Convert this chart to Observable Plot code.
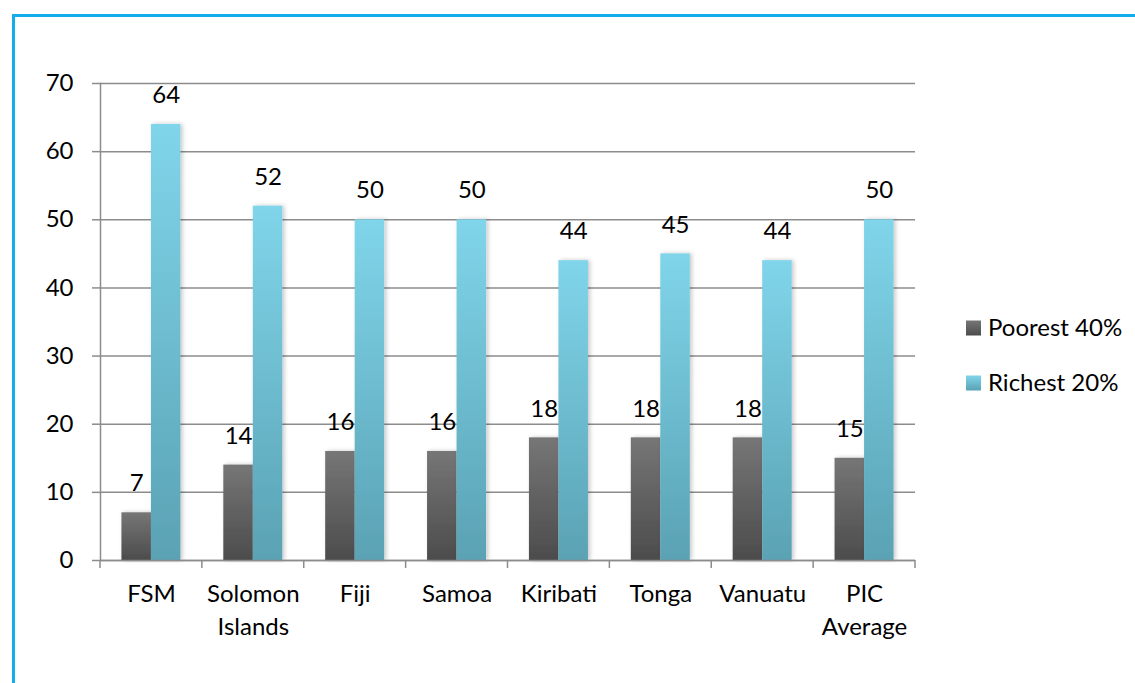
<!DOCTYPE html>
<html><head><meta charset="utf-8">
<script src="https://cdn.jsdelivr.net/npm/d3@7"></script>
<script src="https://cdn.jsdelivr.net/npm/@observablehq/plot@0.6"></script>
<style>
html,body{margin:0;padding:0;background:#fff;}
#wrap{position:relative;width:1135px;height:683px;overflow:hidden;}
#frame{position:absolute;left:12px;top:14px;width:2000px;height:2000px;border-left:3px solid #13AEEA;border-top:3px solid #13AEEA;}
#chart{position:absolute;left:0;top:0;}
</style></head>
<body><div id="wrap"><div id="frame"></div><div id="chart"></div></div>
<script>
const countries = ["FSM", "Solomon Islands", "Fiji", "Samoa", "Kiribati", "Tonga", "Vanuatu", "PIC Average"];
const poorest40 = [7, 14, 16, 16, 18, 18, 18, 15];
const richest20 = [64, 52, 50, 50, 44, 45, 44, 50];
const seriesNames = ["Poorest 40%", "Richest 20%"];
const yTicks = [0, 10, 20, 30, 40, 50, 60, 70];
const labelLines = {"FSM": ["FSM"], "Solomon Islands": ["Solomon", "Islands"], "Fiji": ["Fiji"], "Samoa": ["Samoa"], "Kiribati": ["Kiribati"], "Tonga": ["Tonga"], "Vanuatu": ["Vanuatu"], "PIC Average": ["PIC", "Average"]};

const W = 1135, H = 683;
const mL = 100, mR = 220, mT = 83, mB = 123;
const step = (W - mL - mR) / countries.length;
const barW = 29.5;
const pad = 1 - 2 * barW / step;
const font = "Lato, 'Open Sans', sans-serif";
const fs = 24;
const gridColor = "#8c8c8c";

const poorData = countries.map((c, i) => ({country: c, value: poorest40[i]}));
const richData = countries.map((c, i) => ({country: c, value: richest20[i]}));

const defs = () => {
  const d = d3.create("svg:defs");
  const g1 = d.append("linearGradient").attr("id", "gPoor").attr("x1", 0).attr("y1", 0).attr("x2", 0).attr("y2", 1);
  g1.append("stop").attr("offset", "0%").attr("stop-color", "#767676");
  g1.append("stop").attr("offset", "100%").attr("stop-color", "#4c4c4c");
  const g2 = d.append("linearGradient").attr("id", "gRich").attr("x1", 0).attr("y1", 0).attr("x2", 0).attr("y2", 1);
  g2.append("stop").attr("offset", "0%").attr("stop-color", "#80d5ea");
  g2.append("stop").attr("offset", "100%").attr("stop-color", "#5aa2b4");
  const f = d.append("filter").attr("id", "shadow").attr("x", "-20%").attr("y", "-10%").attr("width", "150%").attr("height", "120%");
  f.append("feDropShadow").attr("dx", 2).attr("dy", 0).attr("stdDeviation", 2).attr("flood-color", "#000").attr("flood-opacity", 0.22);
  return d.node();
};

const plot = Plot.plot({
  width: W, height: H,
  marginLeft: mL, marginRight: mR, marginTop: mT, marginBottom: mB,
  style: {fontFamily: font, fontSize: fs + "px", color: "#000", background: "transparent", overflow: "visible"},
  x: {domain: countries, paddingInner: pad, paddingOuter: pad / 2, round: false},
  y: {domain: [0, 70]},
  marks: [
    defs,
    Plot.gridY(yTicks, {stroke: gridColor, strokeOpacity: 1, strokeWidth: 1.5}),
    Plot.axisY(yTicks, {tickSize: 8, tickPadding: 19, stroke: gridColor, strokeWidth: 1.5, fontSize: fs, fill: "#000", label: null, tickFormat: d => String(d)}),
    Plot.frame({anchor: "left", stroke: gridColor, strokeWidth: 1.5}),
    Plot.barY(poorData, {x: "country", y: "value", fill: "url(#gPoor)", insetRight: barW, insetLeft: 0}),
    Plot.barY(richData, {x: "country", y: "value", fill: "url(#gRich)", insetLeft: barW, insetRight: 0}),
    Plot.ruleY([0], {stroke: gridColor, strokeWidth: 1.5}),
    Plot.text(poorData, {x: "country", y: "value", text: d => String(d.value), dx: -barW / 2, dy: -29, fontSize: fs, fill: "#000"}),
    Plot.text(richData, {x: "country", y: "value", text: d => String(d.value), dx: barW / 2, dy: -29, fontSize: fs, fill: "#000"}),
    Plot.axisX({tickSize: 0, tickPadding: 18, fontSize: fs, fill: "#000", lineHeight: 1.375, label: null, tickFormat: d => labelLines[d].join("\n")})
  ]
});

const sy = plot.scale("y");
const svg = d3.select(plot);
const ticks = svg.append("g").attr("stroke", gridColor).attr("stroke-width", 1.5);
for (let i = 0; i <= countries.length; i++) {
  const px = mL + i * step;
  ticks.append("line").attr("x1", px).attr("x2", px).attr("y1", sy.apply(0)).attr("y2", sy.apply(0) + 8);
}
svg.selectAll("g[aria-label='bar']").attr("filter", "url(#shadow)");

// legend
const legend = svg.append("g").attr("font-family", font).attr("font-size", fs).attr("text-anchor", "start");
const legItems = [{name: seriesNames[0], fill: "url(#gPoor)"}, {name: seriesNames[1], fill: "url(#gRich)"}];
legItems.forEach((it, i) => {
  const y = 328 + i * 55;
  legend.append("rect").attr("x", 966).attr("y", y - 7.5).attr("width", 15).attr("height", 15).attr("fill", it.fill);
  legend.append("text").attr("x", 988).attr("y", y).attr("dy", "0.35em").attr("fill", "#000").text(it.name);
});

document.getElementById("chart").appendChild(plot);
</script>
</body></html>
